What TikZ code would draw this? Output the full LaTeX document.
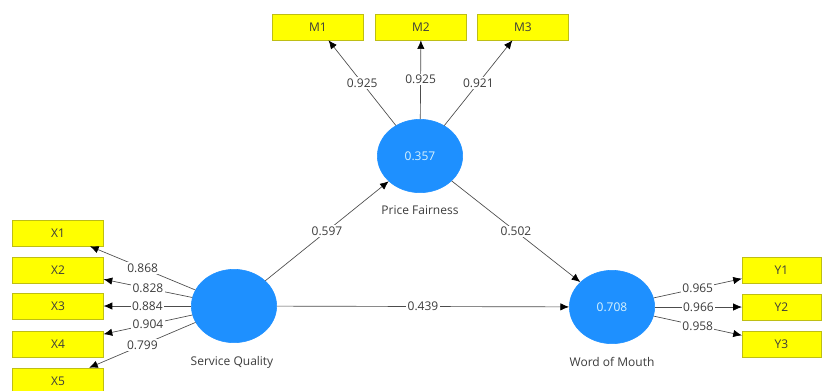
\documentclass[tikz,border=0pt]{standalone}
\usepackage{fontspec}
\setmainfont{Open Sans}
\usetikzlibrary{arrows.meta,shapes.geometric}

\definecolor{lvblue}{RGB}{30,144,255}
\definecolor{indyellow}{RGB}{255,255,0}
\definecolor{indborder}{RGB}{190,190,20}
\definecolor{txtgray}{RGB}{60,60,60}

\tikzset{
  latent/.style={ellipse,fill=lvblue,draw=lvblue,minimum width=64pt,minimum height=55pt,
    inner sep=0pt,text=white!85!cyan,font=\fontsize{9}{11}\selectfont},
  indicator/.style={rectangle,fill=indyellow,draw=indborder,line width=0.4pt,
    minimum width=68pt,minimum height=19.5pt,inner sep=0pt,text=txtgray,
    font=\fontsize{9}{11}\selectfont},
  lvname/.style={text=txtgray,font=\fontsize{9}{11}\selectfont},
  path/.style={-{Latex[length=6.5pt,width=5.5pt,black]},black!70,line width=0.5pt},
  coef/.style={fill=white,inner sep=1pt,text=txtgray,font=\fontsize{9}{11}\selectfont}
}

\begin{document}
\begin{tikzpicture}[x=0.75pt,y=-0.75pt]
  \useasboundingbox[fill=white] (0,0) rectangle (823,390);

  % latent variables
  \node[latent] (sq) at (234,306) {};
  \node[latent] (pf) at (420,156) {0.357};
  \node[latent] (wom) at (612,307) {0.708};
  \node[lvname] (sqname) at (232,362) {Service Quality};
  \node[lvname] (pfname) at (420,210) {Price Fairness};
  \node[lvname] (womname) at (612,362) {Word of Mouth};

  % indicators
  \node[indicator] (x1) at (58,233) {X1};
  \node[indicator] (x2) at (58,270) {X2};
  \node[indicator] (x3) at (58,306) {X3};
  \node[indicator] (x4) at (58,344) {X4};
  \node[indicator] (x5) at (58,381) {X5};
  \node[indicator] (m1) at (318,27) {M1};
  \node[indicator] (m2) at (421,27) {M2};
  \node[indicator] (m3) at (523,27) {M3};
  \node[indicator,minimum width=59pt] (y1) at (781.5,270) {Y1};
  \node[indicator,minimum width=59pt] (y2) at (781.5,307) {Y2};
  \node[indicator,minimum width=59pt] (y3) at (781.5,344) {Y3};

  % outer loadings
  \draw[path] (sq) -- node[coef] {0.868} (x1);
  \draw[path] (sq) -- node[coef] {0.828} (x2);
  \draw[path] (sq) -- node[coef] {0.884} (x3);
  \draw[path] (sq) -- node[coef] {0.904} (x4);
  \draw[path] (sq) -- node[coef] {0.799} (x5);
  \draw[path] (pf) -- node[coef] {0.925} (m1);
  \draw[path] (pf) -- node[coef] {0.925} (m2);
  \draw[path] (pf) -- node[coef] {0.921} (m3);
  \draw[path] (wom) -- node[coef] {0.965} (y1);
  \draw[path] (wom) -- node[coef] {0.966} (y2);
  \draw[path] (wom) -- node[coef] {0.958} (y3);

  % inner model
  \draw[path] (sq) -- node[coef] {0.597} (pf);
  \draw[path] (pf) -- node[coef] {0.502} (wom);
  \draw[path] (sq) -- node[coef] {0.439} (wom);

\end{tikzpicture}
\end{document}
